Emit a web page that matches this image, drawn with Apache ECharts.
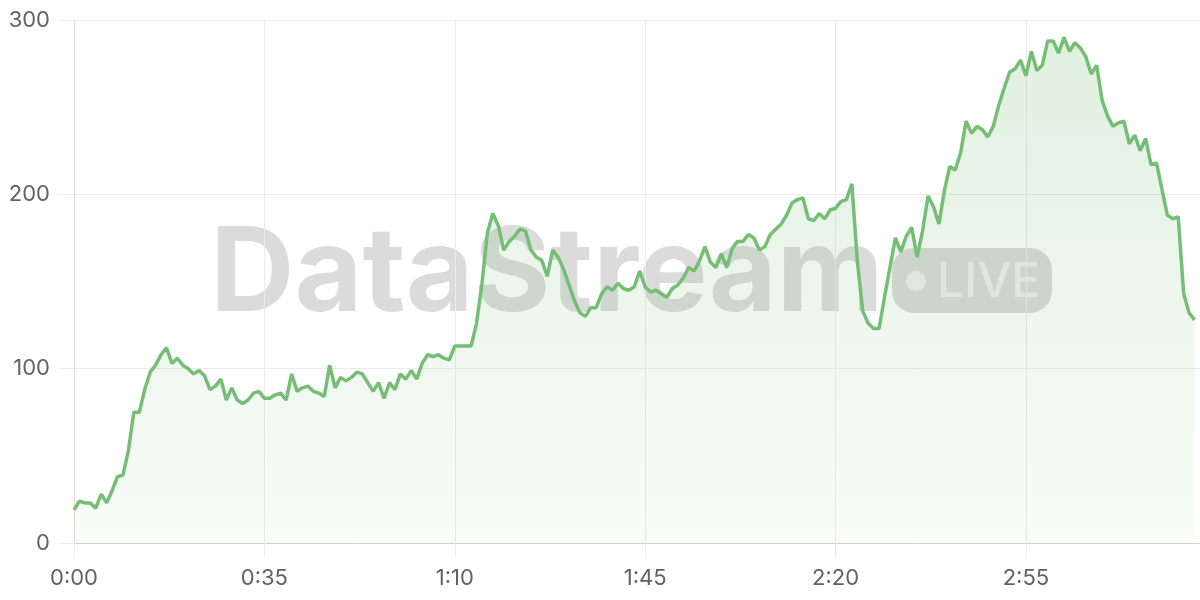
<!DOCTYPE html>
<html>
<head>
<meta charset="utf-8">
<script src="https://cdn.jsdelivr.net/npm/echarts@6/dist/echarts.min.js"></script>
<style>
html,body{margin:0;padding:0;background:#fff;}
#chart{width:1200px;height:600px;}
</style>
</head>
<body>
<div id="chart"></div>
<script>
// Series values, one per second
const values = [
  19, 24, 23, 23, 20, 28, 23, 30, 38, 39,
  53, 75, 75, 88, 98, 102, 108, 112, 103, 106,
  102, 100, 97, 99, 96, 88, 90, 94, 82, 89,
  82, 80, 82, 86, 87, 83, 83, 85, 86, 82,
  97, 87, 89, 90, 87, 86, 84, 102, 89, 95,
  93, 95, 98, 97, 92, 87, 92, 83, 92, 88,
  97, 94, 99, 94, 103, 108, 107, 108, 106, 105,
  113, 113, 113, 113, 126, 149, 178, 189, 182, 168,
  173, 176, 180, 179, 168, 164, 162, 153, 168, 164,
  157, 148, 139, 132, 130, 135, 135, 143, 147, 145,
  149, 146, 145, 147, 156, 147, 144, 145, 143, 141,
  146, 148, 152, 158, 156, 162, 170, 161, 158, 166,
  158, 169, 173, 173, 177, 175, 168, 170, 177, 180,
  183, 188, 195, 197, 198, 186, 185, 189, 186, 191,
  192, 196, 197, 206, 162, 133, 126, 123, 123, 141,
  158, 175, 167, 176, 181, 164, 179, 199, 193, 183,
  202, 216, 214, 224, 242, 235, 239, 237, 233, 239,
  251, 261, 270, 272, 277, 268, 282, 271, 274, 288,
  288, 281, 290, 282, 287, 284, 279, 269, 274, 254,
  245, 239, 241, 242, 229, 234, 225, 232, 217, 218,
  203, 188, 186, 187, 143, 132, 128
];
// Number of seconds covered by the x axis (one more slot than data)
const totalSeconds = 208;
const yTicks = [0, 100, 200, 300];
const watermarkText = 'DataStream';
const badgeText = 'LIVE';

function fmt(s) {
  const m = Math.floor(s / 60);
  const r = s % 60;
  return m + ':' + (r < 10 ? '0' + r : r);
}
const categories = [];
for (let s = 0; s < totalSeconds; s++) categories.push(fmt(s));

const lineColor = '#76bd76';
const gridColor = '#ebebeb';
const labelColor = '#626262';
const labelFont = 'Inter';

const chart = echarts.init(document.getElementById('chart'), null, {renderer: 'canvas'});
chart.setOption({
  animation: false,
  backgroundColor: '#ffffff',
  grid: {left: 74, right: 0, top: 20, bottom: 57, containLabel: false},
  graphic: [
    {
      type: 'text', z: 0,
      style: {
        x: 210, y: 276, text: watermarkText,
        font: 'bold 117px Inter', fill: 'rgba(0,0,0,0.14)',
        align: 'left', verticalAlign: 'middle'
      }
    },
    {
      type: 'rect', z: 0,
      shape: {x: 892, y: 248, width: 160, height: 65, r: 22},
      style: {fill: 'rgba(0,0,0,0.15)'}
    },
    {
      type: 'circle', z: 0,
      shape: {cx: 916, cy: 281, r: 10},
      style: {fill: 'rgba(255,255,255,0.55)'}
    },
    {
      type: 'text', z: 0,
      style: {
        x: 937, y: 283, text: badgeText,
        font: '500 48px Inter', fill: 'rgba(255,255,255,0.55)',
        align: 'left', verticalAlign: 'middle'
      }
    }
  ],
  xAxis: {
    type: 'category',
    data: categories,
    boundaryGap: false,
    axisLine: {show: true, lineStyle: {color: '#d2d2d2', width: 1}},
    axisTick: {show: true, interval: 34, length: 15, lineStyle: {color: gridColor}},
    axisLabel: {interval: 34, color: labelColor, fontFamily: labelFont, fontSize: 22, margin: 24},
    splitLine: {show: true, interval: 34, lineStyle: {color: gridColor, width: 1}}
  },
  yAxis: {
    type: 'value',
    min: yTicks[0],
    max: yTicks[yTicks.length - 1],
    interval: 100,
    axisLine: {show: true, lineStyle: {color: '#dcdcdc', width: 1}},
    axisTick: {show: true, length: 16, lineStyle: {color: gridColor}},
    axisLabel: {color: labelColor, fontFamily: labelFont, fontSize: 22, margin: 24},
    splitLine: {show: true, lineStyle: {color: gridColor, width: 1}}
  },
  series: [{
    type: 'line',
    data: values,
    showSymbol: false,
    smooth: false,
    z: 2,
    lineStyle: {color: lineColor, width: 3.5},
    itemStyle: {color: lineColor},
    areaStyle: {
      color: new echarts.graphic.LinearGradient(0, 0, 0, 1, [
        {offset: 0, color: 'rgba(118,189,118,0.32)'},
        {offset: 1, color: 'rgba(118,189,118,0.06)'}
      ])
    }
  }]
});
</script>
</body>
</html>
